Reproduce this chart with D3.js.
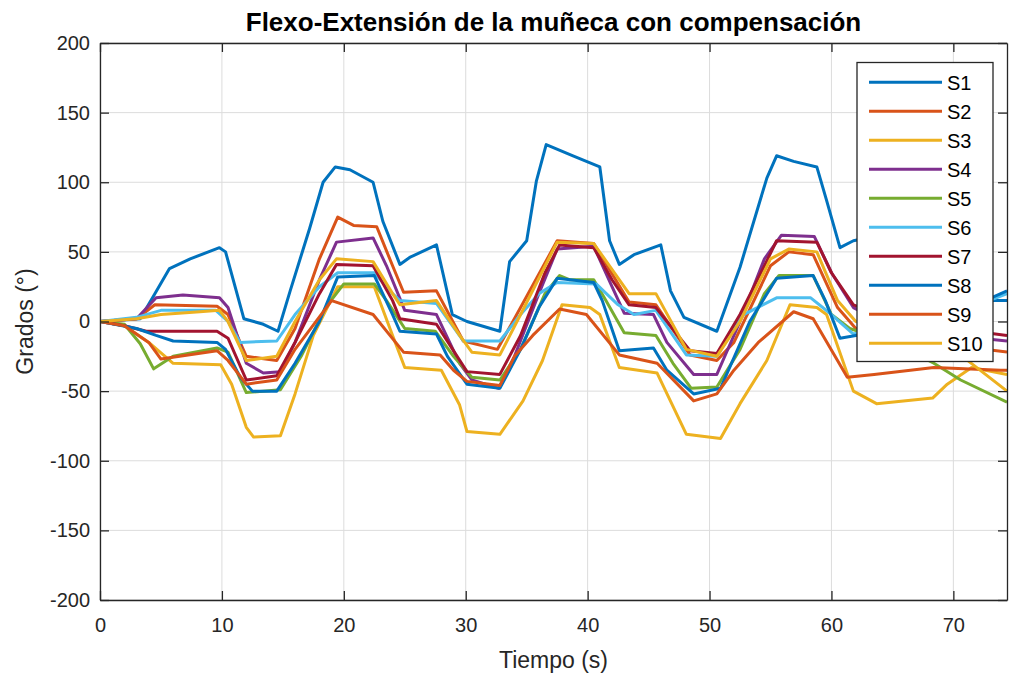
<!DOCTYPE html>
<html><head><meta charset="utf-8">
<script src="https://cdn.jsdelivr.net/npm/d3@7"></script>
<style>body{margin:0;background:#fff}svg{display:block}</style>
</head><body>
<svg id="c" width="1010" height="674"></svg>
<script>
const seriesNames = ["S1","S2","S3","S4","S5","S6","S7","S8","S9","S10"];
const seriesColors = ["#0072BD","#D95319","#EDB120","#7E2F8E","#77AC30","#4DBEEE","#A2142F","#0072BD","#D95319","#EDB120"];
const xTicks = [0,10,20,30,40,50,60,70];
const yTicks = [-200,-150,-100,-50,0,50,100,150,200];

const S1 = [[0,0],[3.3,2],[4.5,20],[5.7,38],[7.4,45],[9.8,53],[10.3,50],[11.8,2],[13.4,-2],[14.6,-7],[15.6,22],[17.2,67],[18.3,100],[19.3,111],[20.5,109],[22.4,100],[23.2,72],[24.6,41],[25.4,46],[27.6,55],[28.9,5],[30.1,0],[32.8,-7],[33.6,43],[35,58],[35.8,101],[36.6,127],[38.8,119],[41,111],[41.8,58],[42.6,41],[43.8,48],[46,55],[46.8,22],[47.9,3],[50.6,-7],[52.5,39],[54.7,103],[55.5,119],[56.9,115],[58.8,111],[59.6,87],[60.7,53],[61.8,58],[64,62],[66,60],[67,25],[68.5,8],[71,12],[73,15],[74.4,15]];
const S2 = [[0,0],[3,2],[4.5,12],[9.6,11],[10.5,5],[12,-25],[14.5,-28],[16,-5],[18,45],[19.5,75],[20.8,69],[22.7,68],[24,40],[24.9,21],[27.6,22],[29.8,-14],[32.6,-20],[34.5,10],[37.5,58],[40.5,56],[43.4,14],[45.6,12],[48.4,-24],[50.6,-28],[52,-15],[55,40],[56.5,50],[58.5,48],[60.5,10],[62,-5],[68,-15],[74.4,-22]];
const S3 = [[0,0],[2,-3],[4,-15],[6,-30],[9.9,-31],[10.8,-45],[12,-76],[12.6,-83],[14.8,-82],[16,-52],[17.5,-10],[19.5,25],[22.5,25],[24,-10],[25,-33],[28,-35],[29.5,-60],[30.1,-79],[32.8,-81],[34.7,-57],[36.3,-28],[37.9,12],[40.2,10],[41,5],[42.6,-33],[45.7,-37],[48.1,-81],[50.9,-84],[52.5,-59],[54.7,-28],[56.6,12],[58.8,10],[59.6,5],[61.8,-50],[63.7,-59],[68.3,-55],[69.5,-45],[71.5,-33],[74.4,-38]];
const S4 = [[0,0],[3,2],[4.6,17],[6.8,19],[9.8,17],[10.5,10],[12,-30],[13.4,-37],[14.8,-36],[16,-15],[18,30],[19.4,57],[22.4,60],[23.5,40],[25,8],[27.6,5],[29.5,-30],[30.5,-42],[32.7,-48],[34,-25],[36,20],[37.5,52],[40.5,54],[42,25],[43,6],[45.4,5],[46.5,-15],[48.7,-38],[50.6,-38],[52.5,0],[54.5,45],[55.9,62],[58.6,61],[60,35],[61.8,10],[64,0],[70,-10],[74.4,-14]];
const S5 = [[0,0],[2,-2],[3.3,-16],[4.4,-34],[6,-25],[9.6,-19],[10.5,-22],[12,-51],[14.8,-49],[16.5,-25],[18.5,10],[20,27],[22.5,27],[23.5,15],[25,-5],[27.5,-7],[29,-25],[30.5,-40],[32.8,-42],[34.5,-20],[36.5,20],[37.7,33],[38.5,30],[40.5,30],[41.5,15],[43,-8],[45.6,-10],[47,-30],[48.5,-48],[50.6,-47],[52.5,-20],[54.5,20],[55.7,33],[58.5,33],[60,5],[61.5,-5],[65,-15],[68.4,-30],[70.6,-42],[74.4,-58]];
const S6 = [[0,0],[3,3],[5,8],[9.5,8],[10.5,0],[11.5,-15],[14.5,-14],[16,5],[18,25],[19.5,35],[22.5,35],[24,20],[24.6,15],[27.6,13],[29.8,-14],[32.8,-14],[34.5,5],[36,20],[37.5,28],[40.7,27],[42.5,12],[43.8,5],[45.6,8],[47,-10],[48.1,-24],[50.6,-25],[52,-5],[52.8,5],[55.5,17],[58.3,17],[60,5],[61.8,-9],[64,-5],[70,5],[74.4,20]];
const S7 = [[0,0],[2,-3],[3.8,-7],[9.6,-7],[10.5,-12],[12,-42],[14.5,-39],[16,-15],[18,20],[19.4,41],[22.4,40],[24,15],[24.6,2],[27.6,-2],[30.1,-36],[32.8,-38],[34.5,-10],[36.5,35],[37.7,55],[40.5,53],[42,30],[43.4,12],[45.6,10],[48.4,-21],[50.6,-23],[52.5,5],[54.5,40],[55.5,58],[58.8,57],[60,35],[61.8,12],[64,5],[70,-5],[74.4,-10]];
const S8 = [[0,0],[3,-5],[4.6,-10],[6,-14],[9.6,-15],[10.3,-20],[11.5,-40],[12.5,-50],[14.5,-50],[16,-30],[18,0],[19.5,32],[22.5,33],[24,5],[24.6,-7],[27.6,-9],[28.5,-25],[30.1,-45],[32.8,-48],[34.5,-20],[36,10],[37.5,31],[40.5,28],[41.2,15],[42.6,-21],[45.4,-19],[46.5,-35],[48.7,-52],[50.9,-48],[53.3,0],[55.5,31],[58.5,33],[59.5,15],[60.7,-12],[62,-10],[66,-5],[70,5],[74.4,22]];
const S9 = [[0,0],[2,-3],[4,-15],[5,-27],[9.6,-21],[10.5,-28],[12,-45],[14.5,-42],[16,-20],[19,15],[22.4,5],[24.9,-22],[27.9,-24],[29,-35],[30.1,-43],[32.8,-46],[34,-25],[35.5,-10],[37.7,9],[39.9,5],[42.6,-24],[45.7,-30],[48.7,-57],[50.6,-52],[52,-35],[54,-15],[56.9,7],[58.5,2],[61.3,-40],[63.5,-38],[68.4,-33],[73.9,-35],[74.4,-35]];
const S10 = [[0,0],[3,2],[5,5],[8.2,7],[9.8,8],[10.5,0],[12,-28],[14.5,-25],[16,0],[18,30],[19.4,45],[22.4,43],[24,20],[24.6,12],[27.6,15],[29.5,-10],[30.5,-22],[32.8,-24],[34.5,5],[37.5,57],[40.5,56],[43.4,20],[45.6,20],[48.1,-20],[50.6,-25],[52.5,0],[55,45],[56.5,52],[58.8,50],[60.5,15],[62,0],[65,-5],[70,-20],[74.4,-50]];
const allSeries = [S1,S2,S3,S4,S5,S6,S7,S8,S9,S10];

const svg = d3.select("#c");
const L=100, R=1007, T=43, B=600;
const x = d3.scaleLinear().domain([0,74.4]).range([L,R]);
const y = d3.scaleLinear().domain([-200,200]).range([B,T]);
const axCol = "#262626";
const font = "'Liberation Sans', Arial, Helvetica, sans-serif";

// grid
svg.append("g").selectAll("line").data(xTicks).join("line")
  .attr("x1",d=>x(d)).attr("x2",d=>x(d)).attr("y1",T).attr("y2",B)
  .attr("stroke","#dcdcdc").attr("stroke-width",1);
svg.append("g").selectAll("line").data(yTicks).join("line")
  .attr("y1",d=>y(d)).attr("y2",d=>y(d)).attr("x1",L).attr("x2",R)
  .attr("stroke","#dcdcdc").attr("stroke-width",1);

// lines
svg.append("clipPath").attr("id","clp").append("rect").attr("x",L).attr("y",T).attr("width",R-L).attr("height",B-T);
const line = d3.line().x(d=>x(d[0])).y(d=>y(d[1]));
const gl = svg.append("g").attr("clip-path","url(#clp)");
allSeries.forEach((s,i)=>{
  gl.append("path").datum(s).attr("d",line).attr("fill","none")
    .attr("stroke",seriesColors[i]).attr("stroke-width",3).attr("stroke-linejoin","round");
});

// axes
const fmt = d=>String(d);
const xb = svg.append("g").attr("transform",`translate(0,${B})`).call(d3.axisBottom(x).tickValues(xTicks).tickFormat(fmt).tickSizeInner(-9).tickSizeOuter(0));
const xt = svg.append("g").attr("transform",`translate(0,${T})`).call(d3.axisTop(x).tickValues(xTicks).tickSizeInner(-9).tickSizeOuter(0).tickFormat(""));
const yl = svg.append("g").attr("transform",`translate(${L},0)`).call(d3.axisLeft(y).tickValues(yTicks).tickFormat(fmt).tickSizeInner(-9).tickSizeOuter(0));
const yr = svg.append("g").attr("transform",`translate(${R},0)`).call(d3.axisRight(y).tickValues(yTicks).tickSizeInner(-9).tickSizeOuter(0).tickFormat(""));
[xb,xt,yl,yr].forEach(g=>{
  g.selectAll("path").attr("stroke",axCol).attr("stroke-width",1.3);
  g.selectAll("line").attr("stroke",axCol).attr("stroke-width",1.3);
  g.selectAll("text").attr("fill",axCol).style("font-family",font).style("font-size","20px");
});
xb.selectAll("text").attr("y",32).attr("dy",null);
yl.selectAll("text").attr("x",-10);

// title, labels
svg.append("text").attr("x",(L+R)/2).attr("y",31).attr("text-anchor","middle")
  .style("font-family",font).style("font-size","26px").style("font-weight","bold").attr("fill","#000")
  .text("Flexo-Extensión de la muñeca con compensación");
svg.append("text").attr("x",(L+R)/2).attr("y",668).attr("text-anchor","middle")
  .style("font-family",font).style("font-size","23px").attr("fill",axCol).text("Tiempo (s)");
svg.append("text").attr("transform",`translate(33,${(T+B)/2}) rotate(-90)`).attr("text-anchor","middle")
  .style("font-family",font).style("font-size","23px").attr("fill",axCol).text("Grados (°)");

// legend
const lg = svg.append("g");
lg.append("rect").attr("x",857).attr("y",62.5).attr("width",136).attr("height",299)
  .attr("fill","#fff").attr("stroke",axCol).attr("stroke-width",1.3);
seriesNames.forEach((n,i)=>{
  const yy = 82.3 + i*29;
  lg.append("line").attr("x1",869).attr("x2",942).attr("y1",yy).attr("y2",yy)
    .attr("stroke",seriesColors[i]).attr("stroke-width",3);
  lg.append("text").attr("x",947).attr("y",yy).attr("dy","0.36em")
    .style("font-family",font).style("font-size","20px").attr("fill","#000").text(n);
});
</script>
</body></html>
